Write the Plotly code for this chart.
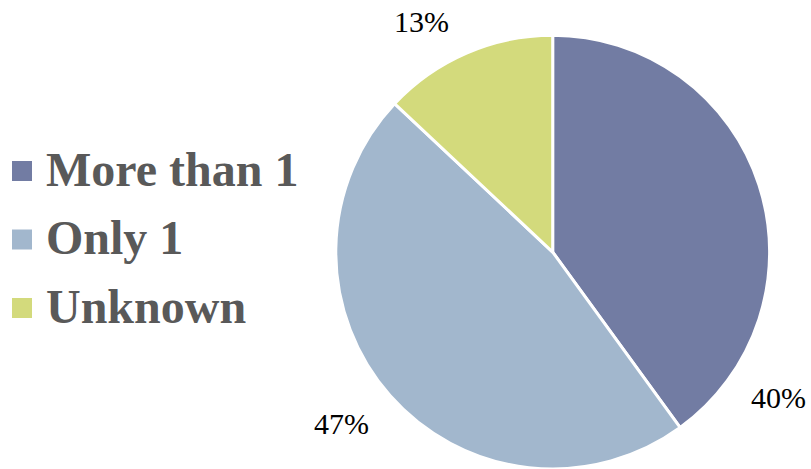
import plotly.graph_objects as go

labels = ["More than 1", "Only 1", "Unknown"]
values = [40, 47, 13]
colors = ["#727CA3", "#A2B7CD", "#D3DA7C"]
# label positions (paper coords) for the percentage texts
label_pos = [(0.9605, 0.1514), (0.4205, 0.096), (0.5203, 0.9531)]

W, H = 811, 469

fig = go.Figure()
fig.add_trace(go.Pie(
    labels=labels, values=values, sort=False, direction="clockwise", rotation=0,
    marker=dict(colors=colors, line=dict(color="white", width=3)),
    textinfo="none", hoverinfo="label+percent",
    domain=dict(x=[0.414, 0.949], y=[0.0, 0.925]),
    showlegend=False,
))
total = sum(values)
for v, (x, y) in zip(values, label_pos):
    fig.add_annotation(x=x, y=y, xref="paper", yref="paper", showarrow=False,
                       xanchor="center", yanchor="middle",
                       text=f"{round(100*v/total)}%",
                       font=dict(family="Liberation Serif", size=30, color="black"))

# custom legend
leg_top = 171  # px center of first row
leg_step = 68.5
for i, (lab, col) in enumerate(zip(labels, colors)):
    yc = leg_top + i * leg_step
    fig.add_shape(type="rect", xref="paper", yref="paper",
                  x0=12 / W, x1=32 / W, y0=1 - (yc + 10) / H, y1=1 - (yc - 10) / H,
                  fillcolor=col, line=dict(width=0))
    fig.add_annotation(x=44 / W, y=1 - (yc - 2) / H, xref="paper", yref="paper",
                       xanchor="left", yanchor="middle", showarrow=False,
                       text=f"<b>{lab}</b>",
                       font=dict(family="Liberation Serif", size=48, color="#595959"))

fig.update_layout(
    width=W, height=H, margin=dict(l=0, r=0, t=0, b=0),
    paper_bgcolor="white", plot_bgcolor="white",
    showlegend=False,
)
fig.write_html("out.html", config={"displayModeBar": False},
               post_script="document.body.style.margin='0px';document.body.style.padding='0px';")
